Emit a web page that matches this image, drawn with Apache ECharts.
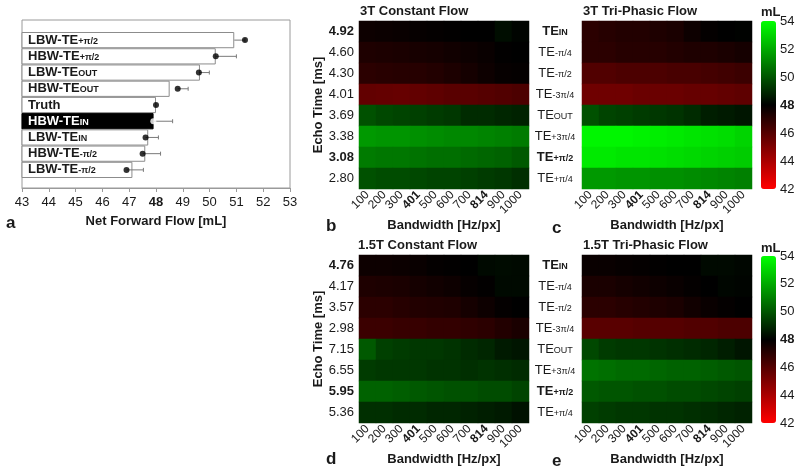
<!DOCTYPE html>
<html>
<head>
<meta charset="utf-8">
<script src="https://cdn.jsdelivr.net/npm/echarts@6/dist/echarts.min.js"></script>
<style>html,body{margin:0;padding:0;background:#fff;}#c{width:800px;height:471px;}</style>
</head>
<body>
<div id="c"></div>
<script>
// ---------- Panel a data ----------
const barBase = ['LBW-TE','HBW-TE','LBW-TE','HBW-TE','Truth','HBW-TE','LBW-TE','HBW-TE','LBW-TE'];
const barSub  = ['+π/2','+π/2','OUT','OUT','','IN','IN','-π/2','-π/2'];
const barValues = [50.92, 50.23, 49.64, 48.51, 48.0, 47.91, 47.71, 47.60, 47.12];
const dotValues = [51.32, 50.23, 49.60, 48.81, 48.0, 47.90, 47.61, 47.50, 46.90];
const errLow    = [50.92, 50.23, 49.60, 48.81, 48.0, 47.90, 47.61, 47.50, 46.90];
const errHigh   = [51.32, 51.00, 49.99, 49.20, 48.0, 48.62, 48.09, 48.17, 47.53];
const flowTicks = [43,44,45,46,47,48,49,50,51,52,53];
const highlightIndex = 5; // HBW-TE_IN (black bar)

// ---------- Heatmap axes ----------
const bwLabels = ['100','200','300','401','500','600','700','814','900','1000'];
const bwBold = ['401','814'];
const te3T  = ['4.92','4.60','4.30','4.01','3.69','3.38','3.08','2.80'];
const te15T = ['4.76','4.17','3.57','2.98','7.15','6.55','5.95','5.36'];
const teBold = ['4.92','3.08','4.76','5.95'];
const phaseSub = ['IN','-π/4','-π/2','-3π/4','OUT','+3π/4','+π/2','+π/4'];
const phaseBold = ['IN','+π/2'];
const cbarTicks = [42,44,46,48,50,52,54];

// ---------- Heatmap values (mL), rows top -> bottom, cols 100..1000 ----------
const flow3TConst = [
  [47.7,47.75,47.8,47.85,47.9,47.95,48.0,48.0,48.3,48.1],
  [47.3,47.35,47.4,47.45,47.5,47.6,47.7,47.8,47.95,48.0],
  [47.0,47.05,47.1,47.1,47.2,47.35,47.5,47.7,47.85,47.9],
  [45.7,45.65,45.6,45.7,45.8,45.9,45.9,46.0,46.1,46.2],
  [49.9,49.7,49.6,49.5,49.4,49.3,49.0,49.0,48.9,48.8],
  [51.6,51.5,51.5,51.4,51.3,51.2,51.2,51.1,51.0,50.9],
  [50.9,50.8,50.8,50.7,50.6,50.6,50.5,50.4,50.3,50.1],
  [49.9,49.8,49.8,49.7,49.6,49.6,49.5,49.4,49.3,49.1]
];
const flow3TTri = [
  [47.0,47.1,47.2,47.2,47.3,47.4,47.7,47.9,48.0,48.05],
  [47.0,47.0,47.1,47.1,47.1,47.2,47.3,47.3,47.4,47.5],
  [46.1,46.1,46.2,46.2,46.2,46.3,46.3,46.4,46.5,46.6],
  [45.4,45.4,45.4,45.5,45.5,45.5,45.6,45.6,45.7,45.8],
  [49.9,49.6,49.5,49.4,49.3,49.2,49.0,48.7,48.6,48.5],
  [53.8,53.8,53.8,53.7,53.6,53.5,53.4,53.3,53.2,53.0],
  [53.5,53.5,53.4,53.4,53.3,53.2,53.1,53.0,52.9,52.8],
  [51.6,51.6,51.5,51.5,51.4,51.4,51.3,51.2,51.1,51.0]
];
const flow15TConst = [
  [47.7,47.7,47.75,47.8,47.9,47.95,48.0,48.2,48.25,48.2],
  [47.3,47.35,47.4,47.5,47.6,47.7,47.85,47.95,48.2,48.2],
  [47.0,47.0,47.1,47.2,47.25,47.3,47.5,47.7,47.9,48.0],
  [46.6,46.6,46.7,46.7,46.8,46.8,46.9,47.0,47.2,47.4],
  [50.1,49.5,49.4,49.3,49.3,49.2,49.0,48.9,48.6,48.5],
  [49.4,49.3,49.3,49.3,49.2,49.2,49.1,49.2,49.1,49.0],
  [50.3,50.3,50.2,50.1,50.0,49.9,49.9,49.8,49.8,49.6],
  [49.1,49.1,49.0,49.0,48.9,48.9,48.8,48.7,48.6,48.4]
];
const flow15TTri = [
  [47.8,47.8,47.85,47.9,47.95,48.0,48.0,48.2,48.2,48.15],
  [47.4,47.4,47.5,47.6,47.7,47.8,47.9,48.0,48.15,48.1],
  [47.0,47.0,47.1,47.2,47.3,47.4,47.6,47.8,47.9,48.0],
  [45.9,45.9,45.9,46.0,46.0,46.0,46.1,46.1,46.2,46.2],
  [49.7,49.4,49.3,49.3,49.2,49.1,49.0,48.9,48.7,48.5],
  [50.7,50.6,50.5,50.5,50.4,50.3,50.3,50.2,50.1,50.0],
  [50.1,50.0,50.0,49.9,49.9,49.8,49.8,49.7,49.6,49.5],
  [49.5,49.4,49.3,49.3,49.2,49.2,49.1,49.0,48.9,48.8]
];

function heatData(rows) {
  const d = [];
  rows.forEach((r, yi) => r.forEach((v, xi) => d.push([xi, yi, v])));
  return d;
}

const FONT = '"Liberation Sans", Arial, sans-serif';
const TXT = '#1a1a1a';

const bwAxisLabel = {
  rotate: 45, interval: 0, margin: 4, fontSize: 12, fontFamily: FONT, color: TXT,
  formatter: v => bwBold.includes(v) ? '{b|' + v + '}' : v,
  rich: { b: { fontWeight: 'bold', fontSize: 12, fontFamily: FONT, color: TXT } }
};
const bwName = {
  name: 'Bandwidth [Hz/px]', nameLocation: 'middle', nameGap: 20,
  nameTextStyle: { fontWeight: 'bold', fontSize: 13, fontFamily: FONT, color: TXT }
};
function heatX(gi) {
  return Object.assign({
    type: 'category', gridIndex: gi, data: bwLabels,
    axisLine: { show: false }, axisTick: { show: false }, splitLine: { show: false },
    axisLabel: bwAxisLabel
  }, bwName);
}
function teY(gi, cats) {
  return {
    type: 'category', gridIndex: gi, data: cats, inverse: true,
    axisLine: { show: false }, axisTick: { show: false },
    name: 'Echo Time [ms]', nameLocation: 'middle', nameGap: 33,
    nameTextStyle: { fontWeight: 'bold', fontSize: 13, fontFamily: FONT, color: TXT },
    axisLabel: {
      margin: 5, fontSize: 13, fontFamily: FONT, color: TXT,
      formatter: v => teBold.includes(v) ? '{b|' + v + '}' : v,
      rich: { b: { fontWeight: 'bold', fontSize: 13, fontFamily: FONT, color: TXT } }
    }
  };
}
function phaseY(gi) {
  return {
    type: 'category', gridIndex: gi, data: phaseSub, inverse: true,
    axisLine: { show: false }, axisTick: { show: false },
    axisLabel: {
      margin: 27, align: 'center', fontSize: 13, fontFamily: FONT, color: TXT,
      formatter: v => phaseBold.includes(v) ? '{mb|TE}{sb|' + v + '}' : '{m|TE}{s|' + v + '}',
      rich: {
        m: { fontSize: 13, fontFamily: FONT, color: TXT, verticalAlign: 'bottom' },
        s: { fontSize: 9, fontFamily: FONT, color: TXT, verticalAlign: 'bottom', padding: [0, 0, 1, 0] },
        mb: { fontSize: 13, fontWeight: 'bold', fontFamily: FONT, color: TXT, verticalAlign: 'bottom' },
        sb: { fontSize: 9, fontWeight: 'bold', fontFamily: FONT, color: TXT, verticalAlign: 'bottom', padding: [0, 0, 1, 0] }
      }
    }
  };
}
function cbarY(gi) {
  return {
    type: 'value', gridIndex: gi, min: 42, max: 54, interval: 2, position: 'right',
    axisLine: { show: false }, axisTick: { show: false }, splitLine: { show: false },
    axisLabel: {
      margin: 4, fontSize: 13, fontFamily: FONT, color: TXT,
      formatter: v => v === 48 ? '{b|48}' : String(v),
      rich: { b: { fontWeight: 'bold', fontSize: 13, fontFamily: FONT, color: TXT } }
    }
  };
}
function hiddenX(gi) { return { type: 'value', gridIndex: gi, show: false, min: 0, max: 1 }; }

const titleStyle = { fontWeight: 'bold', fontSize: 13, fontFamily: FONT, color: TXT };
const letterStyle = { fontWeight: 'bold', fontSize: 17, fontFamily: FONT, color: TXT };

const option = {
  animation: false,
  backgroundColor: '#fff',
  title: [
    { text: '3T Constant Flow', left: 360, top: 5, padding: 0, textStyle: titleStyle },
    { text: '3T Tri-Phasic Flow', left: 583, top: 5, padding: 0, textStyle: titleStyle },
    { text: '1.5T Constant Flow', left: 358, top: 239, padding: 0, textStyle: titleStyle },
    { text: '1.5T Tri-Phasic Flow', left: 583, top: 239, padding: 0, textStyle: titleStyle },
    { text: 'mL', left: 761, top: 6, padding: 0, textStyle: { fontSize: 13, fontFamily: FONT, color: TXT } },
    { text: 'mL', left: 761, top: 242, padding: 0, textStyle: { fontSize: 13, fontFamily: FONT, color: TXT } },
    { text: 'a', left: 6, top: 215, padding: 0, textStyle: letterStyle },
    { text: 'b', left: 326, top: 218, padding: 0, textStyle: letterStyle },
    { text: 'c', left: 552, top: 220, padding: 0, textStyle: letterStyle },
    { text: 'd', left: 326, top: 451, padding: 0, textStyle: letterStyle },
    { text: 'e', left: 552, top: 453, padding: 0, textStyle: letterStyle }
  ],
  grid: [
    { left: 22, top: 20, width: 268, height: 168, show: true, borderColor: '#9a9a9a', borderWidth: 1, backgroundColor: 'transparent' },
    { left: 22, top: 32, width: 268, height: 146 },
    { left: 359, top: 21, width: 170, height: 168 },
    { left: 582, top: 21, width: 170, height: 168 },
    { left: 359, top: 255, width: 170, height: 168 },
    { left: 582, top: 255, width: 170, height: 168 },
    { left: 761, top: 21, width: 15, height: 168 },
    { left: 761, top: 256, width: 15, height: 167 }
  ],
  xAxis: [
    {
      type: 'value', gridIndex: 0, min: 43, max: 53, interval: 1,
      axisLine: { show: true, lineStyle: { color: '#9a9a9a' } },
      axisTick: { show: true, length: 4, lineStyle: { color: '#9a9a9a' } },
      splitLine: { show: false },
      axisLabel: {
        margin: 8, fontSize: 13, fontFamily: FONT, color: TXT,
        formatter: v => v === 48 ? '{b|48}' : String(v),
        rich: { b: { fontWeight: 'bold', fontSize: 13, fontFamily: FONT, color: TXT } }
      },
      name: 'Net Forward Flow [mL]', nameLocation: 'middle', nameGap: 27,
      nameTextStyle: { fontWeight: 'bold', fontSize: 13, fontFamily: FONT, color: TXT }
    },
    { type: 'value', gridIndex: 1, min: 43, max: 53, show: false },
    heatX(2), heatX(3), heatX(4), heatX(5),
    hiddenX(6), hiddenX(7)
  ],
  yAxis: [
    { type: 'value', gridIndex: 0, show: false, min: 0, max: 1 },
    {
      type: 'category', gridIndex: 1, data: barBase.map((b, i) => i), inverse: true, z: 10,
      axisLine: { show: false }, axisTick: { show: false },
      axisLabel: {
        inside: true, margin: 6, fontFamily: FONT,
        formatter: (v, i) => {
          const idx = Number(v);
          const w = idx === highlightIndex ? 'w' : '';
          return '{m' + w + '|' + barBase[idx] + '}' + (barSub[idx] ? '{s' + w + '|' + barSub[idx] + '}' : '');
        },
        rich: {
          m: { fontSize: 13, fontWeight: 'bold', fontFamily: FONT, color: TXT, verticalAlign: 'bottom' },
          s: { fontSize: 9, fontWeight: 'bold', fontFamily: FONT, color: TXT, verticalAlign: 'bottom', padding: [0, 0, 1, 0] },
          mw: { fontSize: 13, fontWeight: 'bold', fontFamily: FONT, color: '#fff', verticalAlign: 'bottom' },
          sw: { fontSize: 9, fontWeight: 'bold', fontFamily: FONT, color: '#fff', verticalAlign: 'bottom', padding: [0, 0, 1, 0] }
        }
      }
    },
    teY(2, te3T), phaseY(3), teY(4, te15T), phaseY(5),
    cbarY(6), cbarY(7)
  ],
  visualMap: [
    {
      type: 'continuous', seriesIndex: [3, 4], min: 42, max: 54, calculable: false,
      left: 761, top: 21, itemWidth: 15, itemHeight: 168, padding: 0, text: null,
      inRange: { color: ['#ff0000', '#000000', '#00ff00'] }, hoverLink: false
    },
    {
      type: 'continuous', seriesIndex: [5, 6], min: 42, max: 54, calculable: false,
      left: 761, top: 256, itemWidth: 15, itemHeight: 167, padding: 0, text: null,
      inRange: { color: ['#ff0000', '#000000', '#00ff00'] }, hoverLink: false
    }
  ],
  series: [
    {
      type: 'bar', xAxisIndex: 1, yAxisIndex: 1, barCategoryGap: '0%', z: 2,
      data: barValues.map((v, i) => ({
        value: v,
        itemStyle: i === highlightIndex
          ? { color: '#000', borderColor: '#000', borderWidth: 1 }
          : { color: '#fff', borderColor: '#8c8c8c', borderWidth: 1 }
      }))
    },
    {
      type: 'custom', xAxisIndex: 1, yAxisIndex: 1, z: 3,
      encode: { x: [0, 1], y: 2 },
      data: errLow.map((lo, i) => [lo, errHigh[i], i]),
      renderItem: (params, api) => {
        const p0 = api.coord([api.value(0), api.value(2)]);
        const p1 = api.coord([api.value(1), api.value(2)]);
        const st = { stroke: '#7a7a7a', lineWidth: 1 };
        return {
          type: 'group',
          children: [
            { type: 'line', shape: { x1: p0[0], y1: p0[1], x2: p1[0], y2: p1[1] }, style: st },
            { type: 'line', shape: { x1: p1[0], y1: p1[1] - 2, x2: p1[0], y2: p1[1] + 2 }, style: st }
          ]
        };
      }
    },
    {
      type: 'scatter', xAxisIndex: 1, yAxisIndex: 1, z: 4, symbol: 'circle', symbolSize: 6,
      data: dotValues.map((v, i) => ({
        value: [v, i],
        itemStyle: i === highlightIndex
          ? { color: '#fff', borderColor: '#fff', borderWidth: 0 }
          : { color: '#000' }
      }))
    },
    { type: 'heatmap', xAxisIndex: 2, yAxisIndex: 2, data: heatData(flow3TConst), emphasis: { disabled: true } },
    { type: 'heatmap', xAxisIndex: 3, yAxisIndex: 3, data: heatData(flow3TTri), emphasis: { disabled: true } },
    { type: 'heatmap', xAxisIndex: 4, yAxisIndex: 4, data: heatData(flow15TConst), emphasis: { disabled: true } },
    { type: 'heatmap', xAxisIndex: 5, yAxisIndex: 5, data: heatData(flow15TTri), emphasis: { disabled: true } }
  ]
};

const chart = echarts.init(document.getElementById('c'), null, { renderer: 'canvas' });
chart.setOption(option);
</script>
</body>
</html>
